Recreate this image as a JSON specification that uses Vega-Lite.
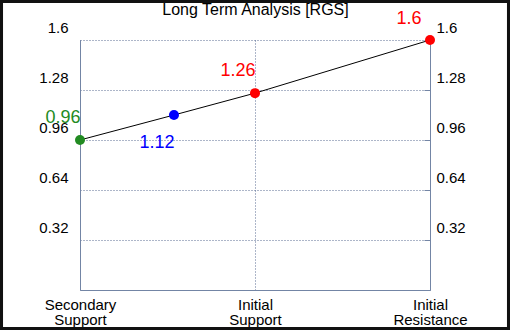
{
  "$schema": "https://vega.github.io/schema/vega-lite/v6.json",
  "width": 350,
  "height": 250,
  "autosize": {"type": "none"},
  "padding": {"left": 80, "top": 40, "right": 80, "bottom": 40},
  "background": "white",
  "config": {"view": {"stroke": null}, "font": "Liberation Sans"},
  "data": {"values": [
    {"level": "Secondary Support", "pos": 0, "price": 0.96, "label": "0.96"},
    {"level": "Current", "pos": 0.537, "price": 1.12, "label": "1.12"},
    {"level": "Initial Support", "pos": 1, "price": 1.26, "label": "1.26"},
    {"level": "Initial Resistance", "pos": 2, "price": 1.6, "label": "1.6"}
  ]},
  "resolve": {"axis": {"x": "independent", "y": "independent"}},
  "layer": [
    {
      "mark": {"type": "line", "color": "black", "strokeWidth": 1},
      "encoding": {
        "x": {
          "field": "pos", "type": "quantitative",
          "scale": {"domain": [0, 2], "nice": false, "zero": false},
          "axis": {
            "orient": "bottom", "title": null, "values": [0, 1, 2],
            "labelExpr": "datum.value == 0 ? ['Secondary','Support'] : datum.value == 1 ? ['Initial','Support'] : ['Initial','Resistance']",
            "labelFontSize": 15, "labelColor": "black", "labelLineHeight": 15, "labelPadding": 7, "labelFlush": false,
            "ticks": false, "domainColor": "#7385a5", "grid": true, "gridColor": "#5a6d92", "gridDash": [1, 2], "gridWidth": 1
          }
        },
        "y": {
          "field": "price", "type": "quantitative",
          "scale": {"domain": [0, 1.6], "nice": false},
          "axis": {
            "orient": "left", "title": null, "values": [0.32, 0.64, 0.96, 1.28, 1.6], "format": ".2~f",
            "labelFontSize": 15, "labelColor": "black", "labelPadding": 12, "labelOffset": -13,
            "ticks": false, "domainColor": "#7385a5", "grid": true, "gridColor": "#5a6d92", "gridDash": [1, 2], "gridWidth": 1
          }
        },
        "order": {"field": "pos"}
      }
    },
    {
      "data": {"values": [{"frame": 1}]},
      "mark": {"type": "rect", "fill": null, "stroke": "#111111", "strokeWidth": 6},
      "encoding": {
        "x": {
          "datum": -0.457, "type": "quantitative",
          "axis": {
            "orient": "top", "title": "Long Term Analysis [RGS]", "titleFontSize": 16, "titleFontWeight": "normal",
            "titleColor": "black", "titleFont": "Liberation Sans", "titleBaseline": "alphabetic", "titlePadding": 26,
            "labels": false, "ticks": false, "domain": false, "grid": false
          }
        },
        "x2": {"datum": 2.457},
        "y": {"datum": -0.256, "type": "quantitative", "axis": null},
        "y2": {"datum": 1.856}
      }
    },
    {
      "mark": {"type": "circle", "size": 100, "opacity": 1},
      "encoding": {
        "x": {"field": "pos", "type": "quantitative", "axis": null},
        "y": {
          "field": "price", "type": "quantitative",
          "axis": {
            "orient": "right", "title": null, "values": [0.32, 0.64, 0.96, 1.28, 1.6], "format": ".2~f",
            "labelFontSize": 15, "labelColor": "black", "labelPadding": 12, "labelOffset": -13,
            "ticks": true, "tickSize": -6, "tickColor": "#7385a5", "domainColor": "#7385a5", "grid": false
          }
        },
        "color": {
          "field": "level", "type": "nominal", "legend": null,
          "scale": {"domain": ["Secondary Support", "Current", "Initial Support", "Initial Resistance"], "range": ["#228b22", "#0000ff", "#ff0000", "#ff0000"]}
        }
      }
    },
    {
      "transform": [{"filter": "datum.level == 'Secondary Support' || datum.level == 'Initial Support'"}],
      "mark": {"type": "text", "fontSize": 18, "dx": -17, "dy": -22, "font": "Liberation Sans"},
      "encoding": {
        "x": {"field": "pos", "type": "quantitative", "axis": null},
        "y": {"field": "price", "type": "quantitative", "axis": null},
        "text": {"field": "label"},
        "color": {"field": "level", "type": "nominal", "legend": null}
      }
    },
    {
      "transform": [{"filter": "datum.level == 'Initial Resistance'"}],
      "mark": {"type": "text", "fontSize": 18, "dx": -21, "dy": -21, "font": "Liberation Sans"},
      "encoding": {
        "x": {"field": "pos", "type": "quantitative", "axis": null},
        "y": {"field": "price", "type": "quantitative", "axis": null},
        "text": {"field": "label"},
        "color": {"field": "level", "type": "nominal", "legend": null}
      }
    },
    {
      "transform": [{"filter": "datum.level == 'Current'"}],
      "mark": {"type": "text", "fontSize": 18, "dx": -17, "dy": 28, "font": "Liberation Sans"},
      "encoding": {
        "x": {"field": "pos", "type": "quantitative", "axis": null},
        "y": {"field": "price", "type": "quantitative", "axis": null},
        "text": {"field": "label"},
        "color": {"field": "level", "type": "nominal", "legend": null}
      }
    }
  ]
}
